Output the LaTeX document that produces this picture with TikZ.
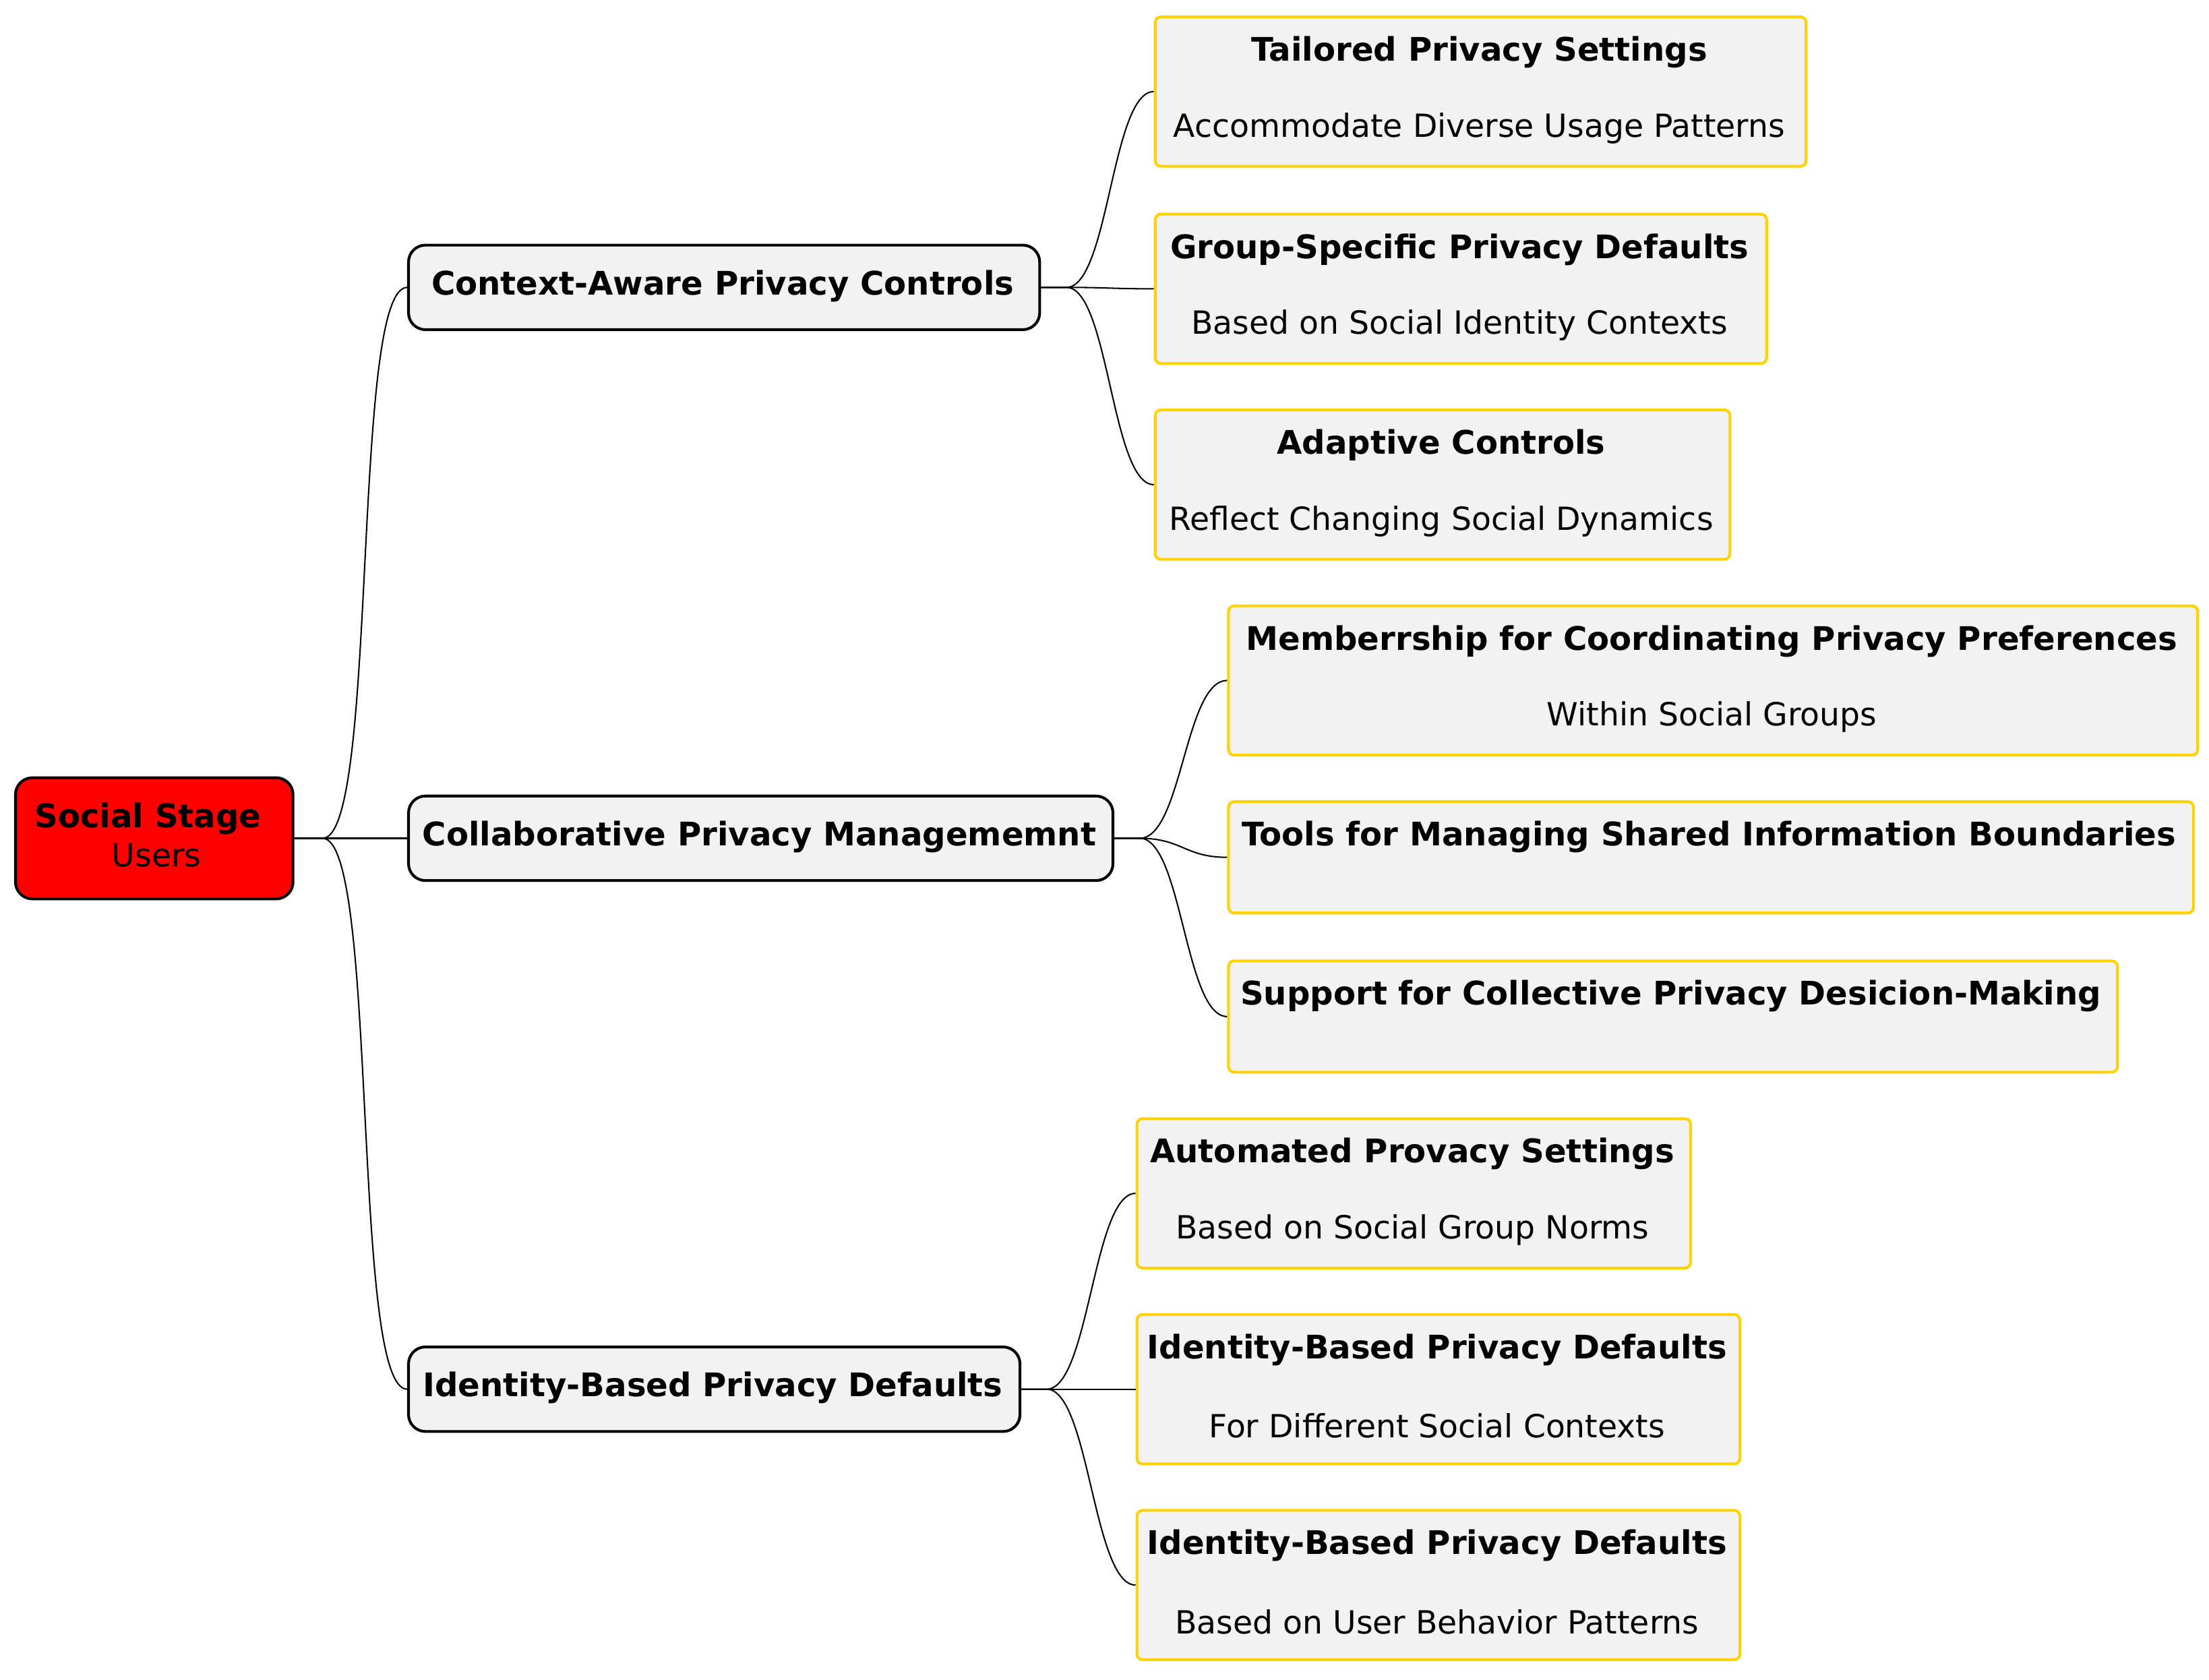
\documentclass[tikz,border=0pt]{standalone}
\usepackage{fontspec}
\setmainfont{DejaVu Sans}
\definecolor{gold}{HTML}{FFD200}
\begin{document}
\begin{tikzpicture}[x=0.05cm,y=-0.05cm,
 box/.style={draw=black,line width=2.8pt,fill=gray!10,rounded corners=0.6cm,anchor=north west,inner sep=0pt},
 leaf/.style={draw=gold,line width=2.8pt,fill=gray!10,rounded corners=0.2cm,anchor=north west,inner sep=0pt},
 tt/.style={font=\fontsize{32.8}{36}\selectfont\bfseries,inner sep=0pt},
 st/.style={font=\fontsize{32.2}{36}\selectfont,inner sep=0pt},
 con/.style={line width=1.4pt}]
\useasboundingbox (0,0) rectangle (1568,1192);
\node[box,fill=red,minimum width=197*0.05cm,minimum height=86*0.05cm] (r) at (10,551) {};
\node[tt] (rt) at (105,581) {Social Stage};
\node[st] (rs) at (111,607) {Users};
\node[box,minimum width=448*0.05cm,minimum height=60*0.05cm] (a) at (289,173) {};
\node[tt] (at) at (513,203) {Context-Aware Privacy Controls};
\node[box,minimum width=500*0.05cm,minimum height=60*0.05cm] (b) at (289,564) {};
\node[tt] (bt) at (539,594) {Collaborative Privacy Managememnt};
\node[box,minimum width=434*0.05cm,minimum height=60*0.05cm] (c) at (289,955) {};
\node[tt] (ct) at (506,985) {Identity-Based Privacy Defaults};
% leaves
\newcommand{\leafnode}[8]{%
 \node[leaf,minimum width=#4*0.05cm,minimum height=#5*0.05cm] (#1) at (#2,#3) {};
 \node[tt] (#1t) at ({#2+#4/2},{#3+26}) {#6};
 \node[st] (#1s) at ({#2+#4/2},{#3+80}) {#7};}
\leafnode{a1}{819}{11}{462}{106}{Tailored Privacy Settings}{Accommodate Diverse Usage Patterns}{}
\leafnode{a2}{819}{151}{434}{106}{Group-Specific Privacy Defaults}{Based on Social Identity Contexts}{}
\leafnode{a3}{819}{290}{408}{106}{Adaptive Controls}{Reflect Changing Social Dynamics}{}
\leafnode{b1}{871}{429}{688}{106}{Memberrship for Coordinating Privacy Preferences}{Within Social Groups}{}
\node[leaf,minimum width=685*0.05cm,minimum height=79*0.05cm] (b2) at (871,568) {};
\node[tt] (b2t) at (1213,594) {Tools for Managing Shared Information Boundaries};
\node[leaf,minimum width=631*0.05cm,minimum height=79*0.05cm] (b3) at (871,681) {};
\node[tt] (b3t) at (1186,707) {Support for Collective Privacy Desicion-Making};
\leafnode{c1}{806}{793}{393}{106}{Automated Provacy Settings}{Based on Social Group Norms}{}
\leafnode{c2}{806}{932}{428}{106}{Identity-Based Privacy Defaults}{For Different Social Contexts}{}
\leafnode{c3}{806}{1071}{428}{106}{Identity-Based Privacy Defaults}{Based on User Behavior Patterns}{}
% connectors
\foreach \t in {a,b,c}{\draw[con] (r.east) -- ++(20,0) .. controls +(40,0) and +(-40,0) .. (\t.west);}
\foreach \p/\t in {a/a1,a/a2,a/a3,b/b1,b/b2,b/b3,c/c1,c/c2,c/c3}{\draw[con] (\p.east) -- ++(18,0) .. controls +(30,0) and +(-30,0) .. (\t.west);}
\end{tikzpicture}
\end{document}
